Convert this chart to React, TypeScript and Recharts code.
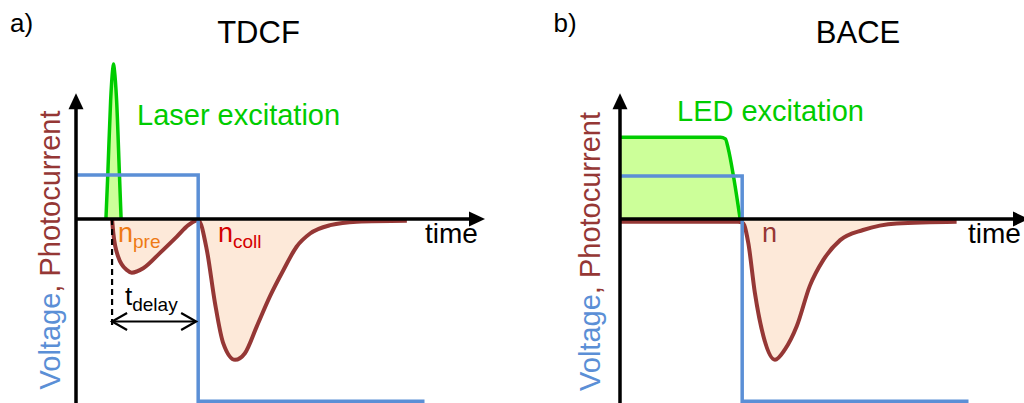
import React from 'react';
import {
  ComposedChart,
  Area,
  Line,
  XAxis,
  YAxis,
  ReferenceLine,
  ReferenceDot,
} from 'recharts';

const FONT = '"Liberation Sans", Arial, sans-serif';
const BLUE = '#5B8FD6';
const BROWN = '#953735';
const PEACH = '#FDE9D9';
const GREEN = '#00CC00';
const LIME = '#CCFF99';
const ORANGE = '#EE7A14';
const RED = '#D40000';

// Time runs 0..100 (arbitrary units); signals in arbitrary units, 0 = baseline.
const TIME_DOMAIN: [number, number] = [0, 100];
const SIGNAL_DOMAIN: [number, number] = [-4.1818, 4];

// --- a) TDCF ---
const tdcfVoltage = [
  { t: 0, v: 1 },
  { t: 29.8, v: 1 },
  { t: 29.8, v: -4.14 },
  { t: 85, v: -4.14 },
];

const tdcfLaser = [
  { t: 7.3, v: 0 },
  { t: 7.75, v: 1.0 },
  { t: 8.45, v: 2.7 },
  { t: 8.95, v: 3.4 },
  { t: 9.15, v: 3.52 },
  { t: 9.35, v: 3.4 },
  { t: 9.9, v: 2.7 },
  { t: 10.6, v: 1.0 },
  { t: 11.0, v: 0 },
];

const tdcfCurrent = [
  { t: 8.8, v: 0 },
  { t: 9.1, v: -0.32 },
  { t: 10.3, v: -0.86 },
  { t: 12.4, v: -1.16 },
  { t: 13.6, v: -1.22 },
  { t: 16.4, v: -1.12 },
  { t: 20.5, v: -0.77 },
  { t: 24.6, v: -0.4 },
  { t: 27.4, v: -0.14 },
  { t: 29.4, v: -0.03 },
  { t: 29.8, v: -0.02 },
  { t: 31.9, v: -0.7 },
  { t: 33.9, v: -1.91 },
  { t: 35.9, v: -2.82 },
  { t: 38.8, v: -3.2 },
  { t: 41.2, v: -3.05 },
  { t: 44.1, v: -2.44 },
  { t: 47.3, v: -1.76 },
  { t: 50.6, v: -1.16 },
  { t: 53.8, v: -0.63 },
  { t: 57.1, v: -0.33 },
  { t: 62.0, v: -0.14 },
  { t: 68.5, v: -0.06 },
  { t: 80.7, v: -0.04 },
];

// delay marker: from laser pulse to voltage switch
const tdcfDelay = { start: 8.8, end: 29.3, level: -2.33, dashBottom: -2.45 };

// --- b) BACE ---
const baceVoltage = [
  { t: 0, v: 0.98 },
  { t: 29.8, v: 0.98 },
  { t: 29.8, v: -4.14 },
  { t: 85, v: -4.14 },
];

const baceLed = [
  { t: 0, v: 1.86 },
  { t: 24.5, v: 1.86 },
  { t: 25.7, v: 1.82 },
  { t: 26.4, v: 1.6 },
  { t: 27.7, v: 0.96 },
  { t: 29.3, v: 0 },
];

const baceCurrent = [
  { t: 0, v: -0.06 },
  { t: 28.8, v: -0.06 },
  { t: 29.8, v: -0.08 },
  { t: 30.3, v: -0.14 },
  { t: 31.3, v: -0.55 },
  { t: 32.9, v: -1.68 },
  { t: 35.0, v: -2.67 },
  { t: 37.8, v: -3.2 },
  { t: 40.2, v: -2.97 },
  { t: 43.1, v: -2.44 },
  { t: 46.3, v: -1.52 },
  { t: 49.6, v: -0.93 },
  { t: 53.7, v: -0.48 },
  { t: 59.3, v: -0.25 },
  { t: 67.5, v: -0.1 },
  { t: 82.1, v: -0.06 },
];

// axis arrows (data units)
const AXIS_BOTTOM = -4.18;
const Y_ARROW_TIP = 2.86;
const Y_LINE_TOP = 2.55;
const X_ARROW_TIP = 99.76;
const X_LINE_END = 96.5;

const UpHead = (p: any) => (
  <path d={`M${p.cx},${p.cy} L${p.cx - 7.5},${p.cy + 16} L${p.cx + 7.5},${p.cy + 16} Z`} fill="#000" />
);
const RightHead = (p: any) => (
  <path d={`M${p.cx},${p.cy} L${p.cx - 16},${p.cy - 7.5} L${p.cx - 16},${p.cy + 7.5} Z`} fill="#000" />
);
const OpenLeft = (p: any) => (
  <path
    d={`M${p.cx + 15},${p.cy - 8.5} L${p.cx},${p.cy} L${p.cx + 15},${p.cy + 8.5}`}
    fill="none"
    stroke="#000"
    strokeWidth={2.2}
  />
);
const OpenRight = (p: any) => (
  <path
    d={`M${p.cx - 15},${p.cy - 8.5} L${p.cx},${p.cy} L${p.cx - 15},${p.cy + 8.5}`}
    fill="none"
    stroke="#000"
    strokeWidth={2.2}
  />
);

function Axes() {
  return (
    <>
      <ReferenceLine
        segment={[
          { x: 0, y: AXIS_BOTTOM },
          { x: 0, y: Y_LINE_TOP },
        ]}
        stroke="#000"
        strokeWidth={3.5}
        ifOverflow="visible"
      />
      <ReferenceLine
        segment={[
          { x: 0, y: 0 },
          { x: X_LINE_END, y: 0 },
        ]}
        stroke="#000"
        strokeWidth={3.5}
        ifOverflow="visible"
      />
      <ReferenceDot x={0} y={Y_ARROW_TIP} r={1} shape={UpHead} ifOverflow="visible" />
      <ReferenceDot x={X_ARROW_TIP} y={0} r={1} shape={RightHead} ifOverflow="visible" />
    </>
  );
}

function TdcfPanel() {
  return (
    <ComposedChart width={512} height={403} margin={{ top: 43, right: 26, bottom: 0, left: 76 }}>
      <XAxis type="number" dataKey="t" domain={TIME_DOMAIN} allowDataOverflow hide />
      <YAxis type="number" dataKey="v" domain={SIGNAL_DOMAIN} allowDataOverflow hide />
      <Area
        data={tdcfCurrent}
        dataKey="v"
        type="monotone"
        baseValue={0}
        fill={PEACH}
        fillOpacity={1}
        stroke={BROWN}
        strokeWidth={4}
        dot={false}
        activeDot={false}
        isAnimationActive={false}
      />
      <Line
        data={tdcfVoltage}
        dataKey="v"
        type="linear"
        stroke={BLUE}
        strokeWidth={3.5}
        dot={false}
        activeDot={false}
        isAnimationActive={false}
      />
      <Area
        data={tdcfLaser}
        dataKey="v"
        type="monotone"
        baseValue={0}
        fill={LIME}
        fillOpacity={1}
        stroke={GREEN}
        strokeWidth={3.5}
        dot={false}
        activeDot={false}
        isAnimationActive={false}
      />
      <ReferenceLine
        segment={[
          { x: tdcfDelay.start, y: 0 },
          { x: tdcfDelay.start, y: tdcfDelay.dashBottom },
        ]}
        stroke="#000"
        strokeWidth={2.2}
        strokeDasharray="6 4"
        ifOverflow="visible"
      />
      <ReferenceLine
        segment={[
          { x: tdcfDelay.start, y: tdcfDelay.level },
          { x: tdcfDelay.end, y: tdcfDelay.level },
        ]}
        stroke="#000"
        strokeWidth={2.2}
        ifOverflow="visible"
      />
      <ReferenceDot x={tdcfDelay.start} y={tdcfDelay.level} r={1} shape={OpenLeft} ifOverflow="visible" />
      <ReferenceDot x={tdcfDelay.end} y={tdcfDelay.level} r={1} shape={OpenRight} ifOverflow="visible" />
      {Axes()}
    </ComposedChart>
  );
}

function BacePanel() {
  return (
    <ComposedChart width={530} height={403} margin={{ top: 43, right: 12, bottom: 0, left: 108 }}>
      <XAxis type="number" dataKey="t" domain={TIME_DOMAIN} allowDataOverflow hide />
      <YAxis type="number" dataKey="v" domain={SIGNAL_DOMAIN} allowDataOverflow hide />
      <Area
        data={baceLed}
        dataKey="v"
        type="monotone"
        baseValue={0}
        fill={LIME}
        fillOpacity={1}
        stroke={GREEN}
        strokeWidth={3.5}
        dot={false}
        activeDot={false}
        isAnimationActive={false}
      />
      <Area
        data={baceCurrent}
        dataKey="v"
        type="monotone"
        baseValue={0}
        fill={PEACH}
        fillOpacity={1}
        stroke={BROWN}
        strokeWidth={4}
        dot={false}
        activeDot={false}
        isAnimationActive={false}
      />
      <Line
        data={baceVoltage}
        dataKey="v"
        type="linear"
        stroke={BLUE}
        strokeWidth={3.5}
        dot={false}
        activeDot={false}
        isAnimationActive={false}
      />
      {Axes()}
    </ComposedChart>
  );
}

function YLabel({ x, y }: { x: number; y: number }) {
  return (
    <text x={x} y={y} fontSize={29} textAnchor="middle" transform={`rotate(-90 ${x} ${y})`}>
      <tspan fill={BLUE}>Voltage</tspan>
      <tspan fill={BROWN}>, Photocurrent</tspan>
    </text>
  );
}

function Annotations() {
  return (
    <svg
      width={1024}
      height={403}
      style={{ position: 'absolute', left: 0, top: 0, pointerEvents: 'none' }}
      fontFamily={FONT}
    >
      <text x={10} y={32} fontSize={26} fill="#000">a)</text>
      <text x={258.5} y={43} fontSize={31} textAnchor="middle" fill="#000">TDCF</text>
      <text x={137} y={125} fontSize={29} fill={GREEN}>Laser excitation</text>
      <text x={425} y={243} fontSize={28} fill="#000">time</text>
      <text x={118} y={242} fontSize={27} fill={ORANGE}>
        n<tspan fontSize={19} dy={6}>pre</tspan>
      </text>
      <text x={218} y={242} fontSize={27} fill={RED}>
        n<tspan fontSize={19} dy={6}>coll</tspan>
      </text>
      <text x={125} y={305} fontSize={26} fill="#000">
        t<tspan fontSize={19} dy={6}>delay</tspan>
      </text>
      <YLabel x={60} y={250} />

      <text x={553.5} y={32} fontSize={26} fill="#000">b)</text>
      <text x={858} y={43} fontSize={31} textAnchor="middle" fill="#000">BACE</text>
      <text x={677} y={121} fontSize={29} fill={GREEN}>LED excitation</text>
      <text x={968} y={243} fontSize={28} fill="#000">time</text>
      <text x={762} y={242} fontSize={27} fill={BROWN}>n</text>
      <YLabel x={600} y={251.5} />
    </svg>
  );
}

export default function App() {
  return (
    <div
      style={{
        position: 'absolute',
        left: 0,
        top: 0,
        width: 1024,
        height: 403,
        overflow: 'hidden',
        background: '#fff',
        fontFamily: FONT,
      }}
    >
      <div style={{ position: 'absolute', left: 0, top: 0 }}>
        <TdcfPanel />
      </div>
      <div style={{ position: 'absolute', left: 512, top: 0 }}>
        <BacePanel />
      </div>
      <Annotations />
    </div>
  );
}
